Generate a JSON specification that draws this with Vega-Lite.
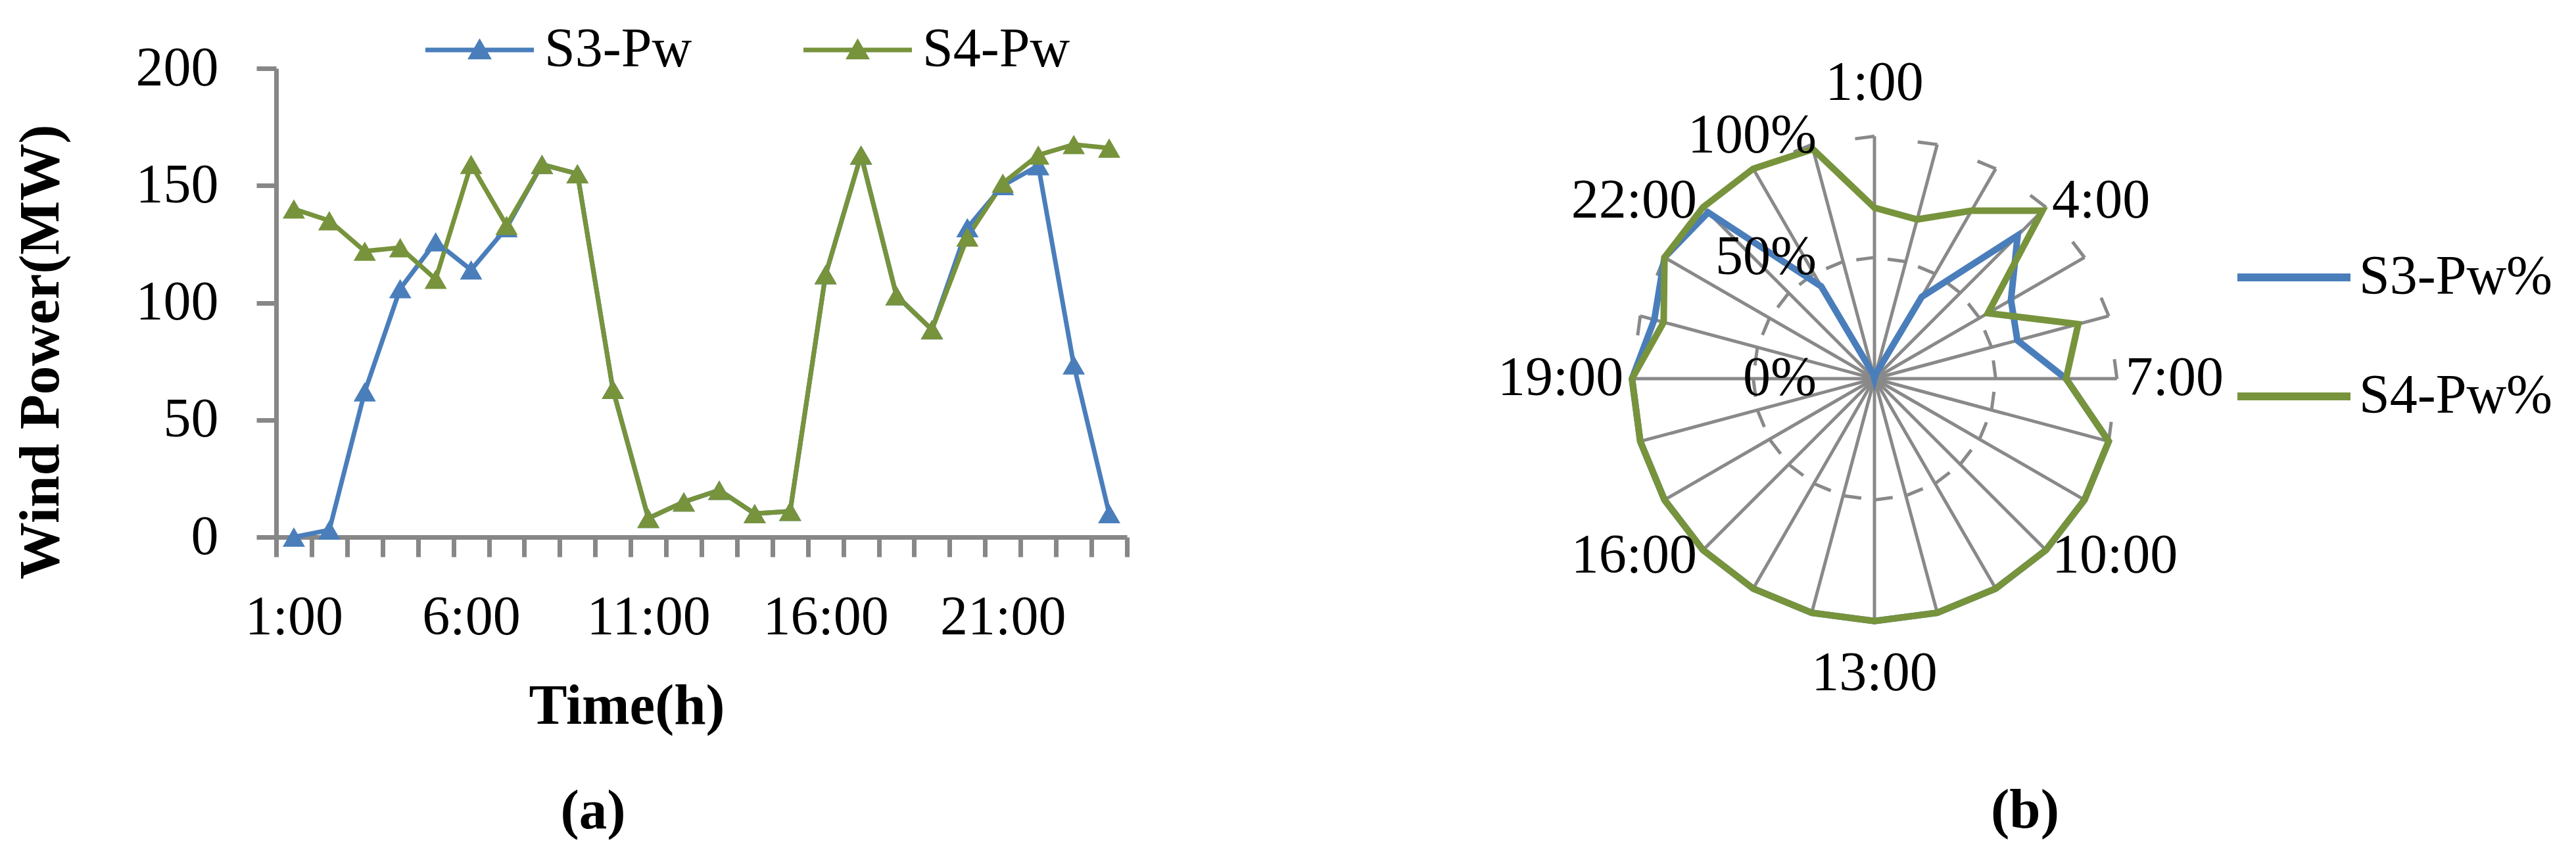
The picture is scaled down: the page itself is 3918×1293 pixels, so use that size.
{
  "$schema": "https://vega.github.io/schema/vega-lite/v6.json",
  "background": "white",
  "padding": {"left": 18, "top": 34, "right": 0, "bottom": 0},
  "autosize": {"type": "pad"},
  "bounds": "flush",
  "spacing": 676,
  "config": {
    "view": {"stroke": null},
    "font": "Liberation Serif",
    "text": {"font": "Liberation Serif", "fontSize": 84, "color": "black"}
  },
  "resolve": {"scale": {"color": "independent"}, "legend": {"color": "independent"}},
  "hconcat": [
    {
      "width": 1294,
      "height": 713,
      "title": {"text": "(a)", "orient": "bottom", "anchor": "middle", "frame": "group", "baseline": "alphabetic", "offset": 143, "dx": -165, "font": "Liberation Serif", "fontSize": 85, "fontWeight": "bold", "color": "black"},
      "data": {"values": [
        {"time": "1:00", "series": "S3-Pw", "value": 0},
        {"time": "2:00", "series": "S3-Pw", "value": 3},
        {"time": "3:00", "series": "S3-Pw", "value": 62},
        {"time": "4:00", "series": "S3-Pw", "value": 106},
        {"time": "5:00", "series": "S3-Pw", "value": 126},
        {"time": "6:00", "series": "S3-Pw", "value": 114},
        {"time": "7:00", "series": "S3-Pw", "value": 132},
        {"time": "8:00", "series": "S3-Pw", "value": 159},
        {"time": "9:00", "series": "S3-Pw", "value": 155},
        {"time": "10:00", "series": "S3-Pw", "value": 63},
        {"time": "11:00", "series": "S3-Pw", "value": 8},
        {"time": "12:00", "series": "S3-Pw", "value": 15},
        {"time": "13:00", "series": "S3-Pw", "value": 20},
        {"time": "14:00", "series": "S3-Pw", "value": 10},
        {"time": "15:00", "series": "S3-Pw", "value": 11},
        {"time": "16:00", "series": "S3-Pw", "value": 112},
        {"time": "17:00", "series": "S3-Pw", "value": 163},
        {"time": "18:00", "series": "S3-Pw", "value": 103},
        {"time": "19:00", "series": "S3-Pw", "value": 88.5},
        {"time": "20:00", "series": "S3-Pw", "value": 132},
        {"time": "21:00", "series": "S3-Pw", "value": 150},
        {"time": "22:00", "series": "S3-Pw", "value": 158.5},
        {"time": "23:00", "series": "S3-Pw", "value": 73.5},
        {"time": "24:00", "series": "S3-Pw", "value": 10},
        {"time": "1:00", "series": "S4-Pw", "value": 140},
        {"time": "2:00", "series": "S4-Pw", "value": 135},
        {"time": "3:00", "series": "S4-Pw", "value": 122},
        {"time": "4:00", "series": "S4-Pw", "value": 123.5},
        {"time": "5:00", "series": "S4-Pw", "value": 110},
        {"time": "6:00", "series": "S4-Pw", "value": 159},
        {"time": "7:00", "series": "S4-Pw", "value": 133},
        {"time": "8:00", "series": "S4-Pw", "value": 159},
        {"time": "9:00", "series": "S4-Pw", "value": 155},
        {"time": "10:00", "series": "S4-Pw", "value": 63},
        {"time": "11:00", "series": "S4-Pw", "value": 8},
        {"time": "12:00", "series": "S4-Pw", "value": 15},
        {"time": "13:00", "series": "S4-Pw", "value": 20},
        {"time": "14:00", "series": "S4-Pw", "value": 10},
        {"time": "15:00", "series": "S4-Pw", "value": 11},
        {"time": "16:00", "series": "S4-Pw", "value": 112},
        {"time": "17:00", "series": "S4-Pw", "value": 163},
        {"time": "18:00", "series": "S4-Pw", "value": 103},
        {"time": "19:00", "series": "S4-Pw", "value": 88.5},
        {"time": "20:00", "series": "S4-Pw", "value": 128},
        {"time": "21:00", "series": "S4-Pw", "value": 151},
        {"time": "22:00", "series": "S4-Pw", "value": 163},
        {"time": "23:00", "series": "S4-Pw", "value": 167.5},
        {"time": "24:00", "series": "S4-Pw", "value": 166}
      ]},
      "encoding": {
        "x": {
          "field": "time", "type": "ordinal", "sort": null,
          "scale": {"type": "band", "paddingInner": 0, "paddingOuter": 0},
          "axis": {
            "title": "Time(h)", "titleFont": "Liberation Serif", "titleFontSize": 87, "titleFontWeight": "bold", "titleColor": "black",
            "titleX": 533, "titleY": 283, "titleBaseline": "alphabetic", "titleAlign": "center",
            "labelExpr": "indexof(['1:00','6:00','11:00','16:00','21:00'], datum.value) >= 0 ? datum.value : ''",
            "labelAngle": 0, "labelFont": "Liberation Serif", "labelFontSize": 84, "labelColor": "black", "labelPadding": 51, "labelOverlap": false, "labelLimit": 1000,
            "tickBand": "extent", "tickSize": 30, "tickWidth": 7, "tickColor": "#878787",
            "domainColor": "#878787", "domainWidth": 7, "grid": false
          }
        },
        "y": {
          "field": "value", "type": "quantitative",
          "scale": {"domain": [0, 200], "nice": false},
          "axis": {
            "title": "Wind Power(MW)", "titleFont": "Liberation Serif", "titleFontSize": 87, "titleFontWeight": "bold", "titleColor": "black",
            "titleX": -332, "titleY": 431, "titleAngle": 270, "titleBaseline": "alphabetic", "titleAlign": "center",
            "values": [0, 50, 100, 150, 200],
            "labelFont": "Liberation Serif", "labelFontSize": 84, "labelColor": "black", "labelPadding": 58, "labelLimit": 1000,
            "tickSize": 30, "tickWidth": 7, "tickColor": "#878787",
            "domainColor": "#878787", "domainWidth": 7, "grid": false
          }
        },
        "color": {
          "field": "series", "type": "nominal",
          "scale": {"domain": ["S3-Pw", "S4-Pw"], "range": ["#4A7EBB", "#77933C"]},
          "legend": {
            "orient": "none", "legendX": 267.5, "legendY": -70, "direction": "horizontal", "title": null,
            "symbolType": "M-4,0L4,0M-0.6,0.52L0,-0.52L0.6,0.52Z",
            "symbolSize": 1701.6, "symbolStrokeWidth": 7, "symbolOpacity": 1,
            "labelFont": "Liberation Serif", "labelFontSize": 84, "labelColor": "black",
            "labelOffset": 56.5, "labelLimit": 1000, "columnPadding": 155, "padding": 0
          }
        }
      },
      "layer": [
        {"mark": {"type": "line", "strokeWidth": 7}},
        {"mark": {"type": "point", "shape": "triangle-up", "filled": true, "size": 1150, "opacity": 1}}
      ]
    },
    {
      "width": 922,
      "height": 944,
      "title": {"text": "(b)", "orient": "bottom", "anchor": "middle", "frame": "group", "baseline": "alphabetic", "offset": 192, "dx": 229, "font": "Liberation Serif", "fontSize": 85, "fontWeight": "bold", "color": "black"},
      "data": {"values": [
        {"hour": 1, "time": "1:00", "series": "S3-Pw%", "pct": 0},
        {"hour": 2, "time": "2:00", "series": "S3-Pw%", "pct": 2},
        {"hour": 3, "time": "3:00", "series": "S3-Pw%", "pct": 39},
        {"hour": 4, "time": "4:00", "series": "S3-Pw%", "pct": 83.5},
        {"hour": 5, "time": "5:00", "series": "S3-Pw%", "pct": 65},
        {"hour": 6, "time": "6:00", "series": "S3-Pw%", "pct": 61},
        {"hour": 7, "time": "7:00", "series": "S3-Pw%", "pct": 79},
        {"hour": 8, "time": "8:00", "series": "S3-Pw%", "pct": 100},
        {"hour": 9, "time": "9:00", "series": "S3-Pw%", "pct": 100},
        {"hour": 10, "time": "10:00", "series": "S3-Pw%", "pct": 100},
        {"hour": 11, "time": "11:00", "series": "S3-Pw%", "pct": 100},
        {"hour": 12, "time": "12:00", "series": "S3-Pw%", "pct": 100},
        {"hour": 13, "time": "13:00", "series": "S3-Pw%", "pct": 100},
        {"hour": 14, "time": "14:00", "series": "S3-Pw%", "pct": 100},
        {"hour": 15, "time": "15:00", "series": "S3-Pw%", "pct": 100},
        {"hour": 16, "time": "16:00", "series": "S3-Pw%", "pct": 100},
        {"hour": 17, "time": "17:00", "series": "S3-Pw%", "pct": 100},
        {"hour": 18, "time": "18:00", "series": "S3-Pw%", "pct": 100},
        {"hour": 19, "time": "19:00", "series": "S3-Pw%", "pct": 100},
        {"hour": 20, "time": "20:00", "series": "S3-Pw%", "pct": 94},
        {"hour": 21, "time": "21:00", "series": "S3-Pw%", "pct": 100},
        {"hour": 22, "time": "22:00", "series": "S3-Pw%", "pct": 97},
        {"hour": 23, "time": "23:00", "series": "S3-Pw%", "pct": 44},
        {"hour": 24, "time": "24:00", "series": "S3-Pw%", "pct": 2},
        {"hour": 1, "time": "1:00", "series": "S4-Pw%", "pct": 70.5},
        {"hour": 2, "time": "2:00", "series": "S4-Pw%", "pct": 68},
        {"hour": 3, "time": "3:00", "series": "S4-Pw%", "pct": 80},
        {"hour": 4, "time": "4:00", "series": "S4-Pw%", "pct": 98},
        {"hour": 5, "time": "5:00", "series": "S4-Pw%", "pct": 54},
        {"hour": 6, "time": "6:00", "series": "S4-Pw%", "pct": 87},
        {"hour": 7, "time": "7:00", "series": "S4-Pw%", "pct": 79},
        {"hour": 8, "time": "8:00", "series": "S4-Pw%", "pct": 100},
        {"hour": 9, "time": "9:00", "series": "S4-Pw%", "pct": 100},
        {"hour": 10, "time": "10:00", "series": "S4-Pw%", "pct": 100},
        {"hour": 11, "time": "11:00", "series": "S4-Pw%", "pct": 100},
        {"hour": 12, "time": "12:00", "series": "S4-Pw%", "pct": 100},
        {"hour": 13, "time": "13:00", "series": "S4-Pw%", "pct": 100},
        {"hour": 14, "time": "14:00", "series": "S4-Pw%", "pct": 100},
        {"hour": 15, "time": "15:00", "series": "S4-Pw%", "pct": 100},
        {"hour": 16, "time": "16:00", "series": "S4-Pw%", "pct": 100},
        {"hour": 17, "time": "17:00", "series": "S4-Pw%", "pct": 100},
        {"hour": 18, "time": "18:00", "series": "S4-Pw%", "pct": 100},
        {"hour": 19, "time": "19:00", "series": "S4-Pw%", "pct": 100},
        {"hour": 20, "time": "20:00", "series": "S4-Pw%", "pct": 90},
        {"hour": 21, "time": "21:00", "series": "S4-Pw%", "pct": 100},
        {"hour": 22, "time": "22:00", "series": "S4-Pw%", "pct": 100},
        {"hour": 23, "time": "23:00", "series": "S4-Pw%", "pct": 100},
        {"hour": 24, "time": "24:00", "series": "S4-Pw%", "pct": 98}
      ]},
      "layer": [
        {
          "transform": [
            {"filter": "datum.series == 'S4-Pw%'"},
            {"calculate": "(datum.hour - 1) * PI / 12", "as": "theta"},
            {"calculate": "0", "as": "cx"},
            {"calculate": "sin(datum.theta)", "as": "sx"},
            {"calculate": "cos(datum.theta)", "as": "sy"}
          ],
          "mark": {"type": "rule", "stroke": "#898989", "strokeWidth": 5},
          "encoding": {
            "x": {"field": "cx", "type": "quantitative", "scale": {"domain": [-1.25, 1.25], "nice": false, "zero": false}, "axis": null},
            "y": {"field": "cx", "type": "quantitative", "scale": {"domain": [-1.28, 1.28], "nice": false, "zero": false}, "axis": null},
            "x2": {"field": "sx"},
            "y2": {"field": "sy"}
          }
        },
        {
          "transform": [
            {"filter": "datum.series == 'S4-Pw%'"},
            {"calculate": "(datum.hour - 1) * PI / 12", "as": "theta"},
            {"calculate": "0.5 * sin(datum.theta)", "as": "rx"},
            {"calculate": "0.5 * cos(datum.theta)", "as": "ry"}
          ],
          "mark": {"type": "line", "interpolate": "linear-closed", "stroke": "#898989", "strokeWidth": 5, "strokeDash": [28, 20.14], "strokeDashOffset": 28},
          "encoding": {
            "x": {"field": "rx", "type": "quantitative", "scale": {"domain": [-1.25, 1.25], "nice": false, "zero": false}, "axis": null},
            "y": {"field": "ry", "type": "quantitative", "scale": {"domain": [-1.28, 1.28], "nice": false, "zero": false}, "axis": null},
            "order": {"field": "hour", "type": "quantitative"}
          }
        },
        {
          "transform": [
            {"filter": "datum.series == 'S4-Pw%'"},
            {"calculate": "(datum.hour - 1) * PI / 12", "as": "theta"},
            {"calculate": "sin(datum.theta)", "as": "rx"},
            {"calculate": "cos(datum.theta)", "as": "ry"}
          ],
          "mark": {"type": "line", "interpolate": "linear-closed", "stroke": "#898989", "strokeWidth": 5, "strokeDash": [30, 66.28], "strokeDashOffset": 30},
          "encoding": {
            "x": {"field": "rx", "type": "quantitative", "scale": {"domain": [-1.25, 1.25], "nice": false, "zero": false}, "axis": null},
            "y": {"field": "ry", "type": "quantitative", "scale": {"domain": [-1.28, 1.28], "nice": false, "zero": false}, "axis": null},
            "order": {"field": "hour", "type": "quantitative"}
          }
        },
        {
          "transform": [
            {"calculate": "(datum.hour - 1) * PI / 12", "as": "theta"},
            {"calculate": "datum.pct / 100 * sin(datum.theta)", "as": "px"},
            {"calculate": "datum.pct / 100 * cos(datum.theta)", "as": "py"}
          ],
          "mark": {"type": "line", "interpolate": "linear-closed", "strokeWidth": 10},
          "encoding": {
            "x": {"field": "px", "type": "quantitative", "scale": {"domain": [-1.25, 1.25], "nice": false, "zero": false}, "axis": null},
            "y": {"field": "py", "type": "quantitative", "scale": {"domain": [-1.28, 1.28], "nice": false, "zero": false}, "axis": null},
            "order": {"field": "hour", "type": "quantitative"},
            "color": {
              "field": "series", "type": "nominal",
              "scale": {"domain": ["S3-Pw%", "S4-Pw%"], "range": ["#4A7EBB", "#77933C"]},
              "legend": {
                "orient": "none", "legendX": 1057, "legendY": 276, "direction": "vertical", "title": null,
                "symbolType": "M-4,0L4,0", "symbolSize": 1849, "symbolStrokeWidth": 12, "symbolOpacity": 1,
                "labelFont": "Liberation Serif", "labelFontSize": 84, "labelColor": "black",
                "labelOffset": 57, "labelLimit": 1000, "rowPadding": 97, "padding": 0
              }
            }
          }
        },
        {
          "transform": [
            {"filter": "datum.series == 'S4-Pw%' && (datum.hour == 1 || datum.hour == 13)"},
            {"calculate": "(datum.hour - 1) * PI / 12", "as": "theta"},
            {"calculate": "1.217 * sin(datum.theta)", "as": "lx"},
            {"calculate": "1.217 * cos(datum.theta)", "as": "ly"}
          ],
          "mark": {"type": "text", "align": "center", "baseline": "middle", "font": "Liberation Serif", "fontSize": 84, "color": "black"},
          "encoding": {
            "x": {"field": "lx", "type": "quantitative", "scale": {"domain": [-1.25, 1.25], "nice": false, "zero": false}, "axis": null},
            "y": {"field": "ly", "type": "quantitative", "scale": {"domain": [-1.28, 1.28], "nice": false, "zero": false}, "axis": null},
            "text": {"field": "time"}
          }
        },
        {
          "transform": [
            {"filter": "datum.series == 'S4-Pw%' && (datum.hour == 4 || datum.hour == 7 || datum.hour == 10)"},
            {"calculate": "(datum.hour - 1) * PI / 12", "as": "theta"},
            {"calculate": "1.035 * sin(datum.theta)", "as": "lx"},
            {"calculate": "1.035 * cos(datum.theta)", "as": "ly"}
          ],
          "mark": {"type": "text", "align": "left", "baseline": "middle", "font": "Liberation Serif", "fontSize": 84, "color": "black"},
          "encoding": {
            "x": {"field": "lx", "type": "quantitative", "scale": {"domain": [-1.25, 1.25], "nice": false, "zero": false}, "axis": null},
            "y": {"field": "ly", "type": "quantitative", "scale": {"domain": [-1.28, 1.28], "nice": false, "zero": false}, "axis": null},
            "text": {"field": "time"}
          }
        },
        {
          "transform": [
            {"filter": "datum.series == 'S4-Pw%' && (datum.hour == 16 || datum.hour == 19 || datum.hour == 22)"},
            {"calculate": "(datum.hour - 1) * PI / 12", "as": "theta"},
            {"calculate": "1.035 * sin(datum.theta)", "as": "lx"},
            {"calculate": "1.035 * cos(datum.theta)", "as": "ly"}
          ],
          "mark": {"type": "text", "align": "right", "baseline": "middle", "font": "Liberation Serif", "fontSize": 84, "color": "black"},
          "encoding": {
            "x": {"field": "lx", "type": "quantitative", "scale": {"domain": [-1.25, 1.25], "nice": false, "zero": false}, "axis": null},
            "y": {"field": "ly", "type": "quantitative", "scale": {"domain": [-1.28, 1.28], "nice": false, "zero": false}, "axis": null},
            "text": {"field": "time"}
          }
        },
        {
          "data": {"values": [
            {"pct": 0, "label": "0%"},
            {"pct": 50, "label": "50%"},
            {"pct": 100, "label": "100%"}
          ]},
          "transform": [
            {"calculate": "datum.pct / 100", "as": "r"},
            {"calculate": "0", "as": "cx"}
          ],
          "mark": {"type": "text", "align": "right", "baseline": "middle", "dx": -88, "font": "Liberation Serif", "fontSize": 84, "color": "black"},
          "encoding": {
            "x": {"field": "cx", "type": "quantitative", "scale": {"domain": [-1.25, 1.25], "nice": false, "zero": false}, "axis": null},
            "y": {"field": "r", "type": "quantitative", "scale": {"domain": [-1.28, 1.28], "nice": false, "zero": false}, "axis": null},
            "text": {"field": "label"}
          }
        }
      ]
    }
  ]
}
